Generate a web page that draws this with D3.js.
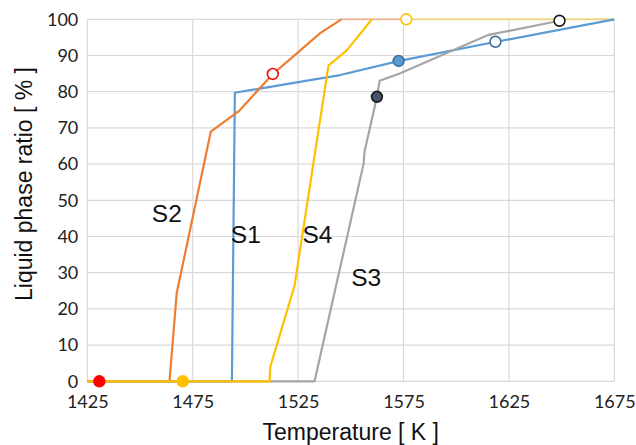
<!DOCTYPE html>
<html>
<head>
<meta charset="utf-8">
<script src="https://cdn.jsdelivr.net/npm/d3@7"></script>
<style>
  body { margin: 0; background: #fff; }
  .tick text { font-family: Lato, "Open Sans", sans-serif; font-size: 18px; fill: #222; }
  .title { font-family: "Liberation Sans", Arial, sans-serif; font-size: 23px; fill: #111; }
  .slabel { font-family: "Liberation Sans", Arial, sans-serif; font-size: 24.5px; fill: #111; }
</style>
</head>
<body>
<div id="chart"></div>
<script>
// values
var xTicks = [1425, 1475, 1525, 1575, 1625, 1675];
var yTicks = [0, 10, 20, 30, 40, 50, 60, 70, 80, 90, 100];

var s1Temp = [1425, 1493.6, 1495, 1530.7, 1545, 1573, 1619, 1675];
var s1Val  = [0, 0, 79.7, 83.2, 84.6, 88.5, 93.8, 100];

var s2Temp = [1425, 1464, 1467.4, 1483.6, 1497.2, 1513, 1524.4, 1535.5, 1545.5];
var s2Val  = [0, 0, 24.3, 69, 74.8, 84.9, 90.6, 96.2, 100];

var s3Temp = [1425, 1532.8, 1556.1, 1556.5, 1562.4, 1563.7, 1573.5, 1615.4, 1649, 1652];
var s3Val  = [0, 0, 60.2, 63.4, 78.6, 83, 85.1, 95.7, 99.6, 100];

var s4Temp = [1425, 1511.5, 1511.8, 1523.3, 1539.4, 1548.2, 1560];
var s4Val  = [0, 0, 4, 26.4, 87.2, 91.5, 100];

// plateaus along 100 % (drawn faint)
var s2TopTemp = [1545.5, 1576];
var s4TopTemp = [1576, 1675];

var markerTemp = [1430.7, 1513, 1470.3, 1576.3, 1572.7, 1618.6, 1562.4, 1649];
var markerVal  = [0, 84.9, 0, 100, 88.5, 93.8, 78.6, 99.6];

var labelText = ["S2", "S1", "S4", "S3"];
var labelTemp = [1455.6, 1493.1, 1527.1, 1550.2];
var labelVal  = [43.9, 38.1, 38.1, 26.3];

var svgWidth = 636;
var svgHeight = 445;
var margin = { top: 19.3, right: 21.7, bottom: 63.7, left: 87.3 };
var width = svgWidth - margin.left - margin.right;
var height = svgHeight - margin.top - margin.bottom;

var svg = d3.select("#chart")
    .append("svg")
    .attr("width", svgWidth)
    .attr("height", svgHeight);

var chartGroup = svg.append("g")
    .attr("transform", `translate(${margin.left}, ${margin.top})`);

var x = d3.scaleLinear().domain([1425, 1675]).range([0, width]);
var y = d3.scaleLinear().domain([0, 100]).range([height, 0]);

// grid
chartGroup.append("g")
    .selectAll("line.h")
    .data(yTicks)
    .enter()
    .append("line")
    .attr("x1", 0).attr("x2", width)
    .attr("y1", d => y(d)).attr("y2", d => y(d))
    .attr("stroke", "#d9d9d9").attr("stroke-width", 1.2);

chartGroup.append("g")
    .selectAll("line.v")
    .data(xTicks)
    .enter()
    .append("line")
    .attr("x1", d => x(d)).attr("x2", d => x(d))
    .attr("y1", 0).attr("y2", height)
    .attr("stroke", "#d9d9d9").attr("stroke-width", 1.2);

// axes (labels only)
var xAxis = chartGroup.append("g")
    .attr("transform", `translate(0, ${height})`)
    .call(d3.axisBottom(x).tickValues(xTicks).tickSize(0).tickPadding(14).tickFormat(d3.format("d")));
xAxis.select(".domain").remove();

var yAxis = chartGroup.append("g")
    .call(d3.axisLeft(y).tickValues(yTicks).tickSize(0).tickPadding(9));
yAxis.select(".domain").remove();

var line = d3.line()
    .x(d => x(d[0]))
    .y(d => y(d[1]));

function pairs(ts, vs) {
    return ts.map((t, i) => [t, vs[i]]);
}

// faint plateaus
chartGroup.append("path")
    .datum(s2TopTemp.map(t => [t, 100]))
    .attr("d", line)
    .attr("fill", "none")
    .attr("stroke", "#ED7D31").attr("stroke-opacity", 0.4).attr("stroke-width", 2);
chartGroup.append("path")
    .datum(s4TopTemp.map(t => [t, 100]))
    .attr("d", line)
    .attr("fill", "none")
    .attr("stroke", "#FFC000").attr("stroke-opacity", 0.4).attr("stroke-width", 2);

var series = [
    { data: pairs(s1Temp, s1Val), color: "#5B9BD5" },
    { data: pairs(s2Temp, s2Val), color: "#ED7D31" },
    { data: pairs(s3Temp, s3Val), color: "#A5A5A5" },
    { data: pairs(s4Temp, s4Val), color: "#FFC000" }
];

chartGroup.selectAll("path.series")
    .data(series)
    .enter()
    .append("path")
    .attr("class", "series")
    .attr("d", d => line(d.data))
    .attr("fill", "none")
    .attr("stroke", d => d.color)
    .attr("stroke-width", 2.2)
    .attr("stroke-linejoin", "round");

// markers
var markerFill   = ["#FF0000", "#FFFFFF", "#FFC000", "#FFFFFF", "#5B9BD5", "#FFFFFF", "#44546A", "#FFFFFF"];
var markerStroke = ["#FF0000", "#FF0000", "#FFC000", "#FFC000", "#41719C", "#41719C", "#1a1a1a", "#1a1a1a"];

chartGroup.selectAll("circle")
    .data(markerTemp)
    .enter()
    .append("circle")
    .attr("cx", d => x(d))
    .attr("cy", (d, i) => y(markerVal[i]))
    .attr("r", 5.4)
    .attr("fill", (d, i) => markerFill[i])
    .attr("stroke", (d, i) => markerStroke[i])
    .attr("stroke-width", 1.6);

// series labels
chartGroup.selectAll("text.slabel")
    .data(labelText)
    .enter()
    .append("text")
    .attr("class", "slabel")
    .attr("x", (d, i) => x(labelTemp[i]))
    .attr("y", (d, i) => y(labelVal[i]))
    .text(d => d);

// axis titles
svg.append("text")
    .attr("class", "title")
    .attr("x", margin.left + width / 2)
    .attr("y", 440)
    .attr("text-anchor", "middle")
    .text("Temperature [ K ]");

svg.append("text")
    .attr("class", "title")
    .attr("transform", "rotate(-90)")
    .attr("x", -184)
    .attr("y", 32)
    .attr("text-anchor", "middle")
    .text("Liquid phase ratio [ % ]");
</script>
</body>
</html>
